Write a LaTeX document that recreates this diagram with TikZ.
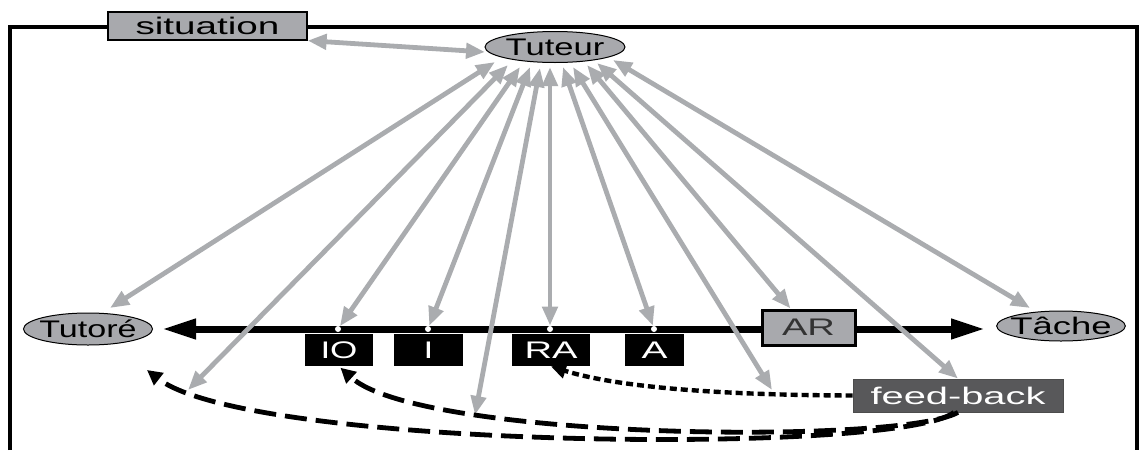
\documentclass[tikz,border=0pt]{standalone}
\usepackage{fontspec}
\setmainfont{Liberation Sans}
\usepackage{graphicx}
\usetikzlibrary{arrows.meta,shapes.geometric}
\definecolor{lgray}{HTML}{A8A9AD}
\definecolor{agray}{HTML}{AAACAF}
\definecolor{dgray}{HTML}{58585A}
\newcommand{\hs}[2]{\scalebox{#1}[1]{#2}}
\begin{document}
\begin{tikzpicture}[x=0.5pt,y=-0.5pt,
  txt/.style={font=\fontsize{12}{14}\selectfont},
  ell/.style={ellipse, draw=black, line width=0.5pt, fill=lgray, inner sep=0pt, txt},
  graybox/.style={rectangle, draw=black, line width=0.6pt, fill=lgray, inner sep=0pt, txt},
  blkbox/.style={rectangle, fill=black, text=white, inner sep=0pt, minimum height=16pt, txt},
  fbbox/.style={rectangle, fill=dgray, draw=gray!60!black, line width=0.4pt, text=white, inner sep=0pt, txt},
  dot/.style={circle, fill=white, inner sep=0pt, minimum size=3pt},
  link/.style={draw=agray, line width=2.4pt, {Triangle[length=9.5pt,width=7.5pt]}-{Triangle[length=9.5pt,width=7.5pt]}},
  mainline/.style={line width=3.5pt, {Triangle[length=17pt,width=9.5pt]}-{Triangle[length=17pt,width=9.5pt]}},
  fbdash/.style={line width=2.4pt, dash pattern=on 11pt off 4.5pt, -{Triangle[length=7.5pt,width=7.5pt]}},
  fbdot/.style={line width=2.2pt, dash pattern=on 3.5pt off 2pt, -{Triangle[length=7.5pt,width=7.5pt]}},
  frame/.style={line width=2.3pt}
]
\useasboundingbox (0,0) rectangle (1141,450);

% frame
\draw[frame] (10,450) -- (10,27) -- (1137,27) -- (1137,450);

% main line
\coordinate (mL) at (162,329);
\coordinate (mR) at (985,329);
\draw[mainline] (mL) -- (mR);

% nodes
\node[graybox, minimum width=99.5pt, minimum height=14pt] (sit) at (207.5,26) {\hs{1.61}{situation}};
\node[ell, minimum width=70pt, minimum height=15.5pt] (tut) at (555,47) {\hs{1.44}{Tuteur}};
\node[ell, inner xsep=-1.5pt, minimum height=16pt] (tutore) at (88,329) {\hs{1.42}{Tutoré}};
\node[ell, inner xsep=-2.6pt, minimum height=15pt] (tache) at (1061,326) {\hs{1.52}{Tâche}};
\node[graybox, line width=1.5pt, minimum width=46.5pt, minimum height=17.5pt, text=gray!40!black] (ar) at (808.5,327.5) {\hs{1.59}{AR}};
\node[blkbox, minimum width=34pt] (io) at (339,350) {\hs{1.46}{IO}};
\node[blkbox, minimum width=34.5pt] (i) at (428.5,350) {\hs{1.46}{I}};
\node[blkbox, minimum width=39pt] (ra) at (551,350) {\hs{1.59}{RA}};
\node[blkbox, minimum width=29.5pt] (a) at (654.5,350) {\hs{1.62}{A}};
\node[fbbox, minimum width=105pt, minimum height=16.5pt] (fb) at (958,395.5) {\hs{1.66}{feed-back}};

% dots on the line
\node[dot] (dIO) at (338,329) {};
\node[dot] (dI) at (428,329) {};
\node[dot] (dRA) at (550,329) {};
\node[dot] (dA) at (654,329) {};

% arrow ends near Tuteur
\coordinate (t1) at (485,52);
\coordinate (t2) at (495,62);
\coordinate (t3) at (508,65);
\coordinate (t4) at (520,67);
\coordinate (t5) at (530,67);
\coordinate (t6) at (540,68);
\coordinate (t7) at (550,67);
\coordinate (t8) at (563,67);
\coordinate (t9) at (573,67);
\coordinate (t10) at (587,65);
\coordinate (t11) at (597,63);
\coordinate (t12) at (613,60);
% free ends
\coordinate (pTutore) at (110,308);
\coordinate (e1) at (188,390);
\coordinate (e2) at (475,415);
\coordinate (e3) at (772,390);
\coordinate (pTache) at (1030,308);
\coordinate (pTutore2) at (147,370);

% gray links
\draw[link] (sit.south east) -- (t1);
\draw[link] (t2) -- (pTutore);
\draw[link] (t3) -- (e1);
\draw[link] (t4) -- (dIO);
\draw[link] (t5) -- (dI);
\draw[link] (t6) -- (e2);
\draw[link] (t7) -- (dRA);
\draw[link] (t8) -- (dA);
\draw[link] (t9) -- (e3);
\draw[link] (t10) -- ([xshift=-9pt]ar.north);
\draw[link] (t11) -- (fb.north);
\draw[link] (t12) -- (pTache);

% feed-back arrows
\draw[fbdot] (fb.west) .. controls (700,395) and (610,385) .. (ra.south);
\draw[fbdash, shorten >=1pt] (fb.south) .. controls (900,445) and (420,440) .. (io.south);
\draw[fbdash] ([xshift=-2pt]fb.south) .. controls (900,455) and (250,450) .. (pTutore2);
\end{tikzpicture}
\end{document}
